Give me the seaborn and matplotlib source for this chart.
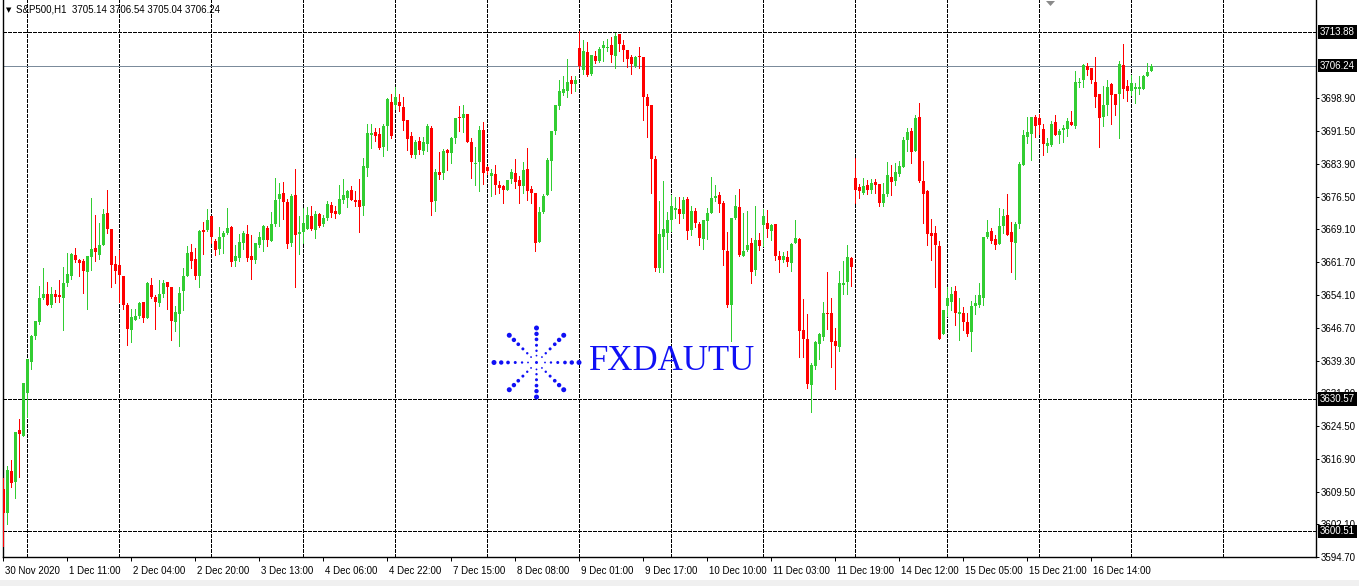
import numpy as np
import pandas as pd
import matplotlib
matplotlib.use("Agg")
import matplotlib.pyplot as plt
import matplotlib.transforms as mtransforms
from matplotlib.patches import Rectangle, Polygon
import seaborn as sns

# ---------------- data (S&P500, H1) ----------------
opens = [
    3610.2, 3604.6, 3614.3, 3611.8, 3623.6, 3622.2, 3631.9, 3638.9, 3644.8, 3648.0, 3653.6, 3654.5,
    3651.8, 3654.3, 3654.1, 3653.6, 3656.8, 3658.6, 3663.3, 3662.2, 3662.0, 3659.3, 3662.9, 3664.9,
    3663.3, 3665.6, 3672.8, 3669.2, 3661.3, 3661.1, 3658.4, 3652.0, 3646.2, 3648.6, 3649.5, 3652.5,
    3648.9, 3656.5, 3653.8, 3652.3, 3654.3, 3657.2, 3656.1, 3648.0, 3649.8, 3655.2, 3658.6, 3664.0,
    3662.4, 3658.6, 3669.0, 3669.0, 3672.1, 3666.5, 3664.7, 3667.4, 3668.3, 3669.6, 3662.0, 3662.6,
    3666.0, 3668.1, 3663.1, 3662.2, 3665.6, 3666.7, 3669.4, 3666.5, 3670.3, 3676.0, 3677.3, 3675.3,
    3666.0, 3676.9, 3668.1, 3668.5, 3669.2, 3672.1, 3669.0, 3672.6, 3670.3, 3671.7, 3674.6, 3673.3,
    3672.6, 3675.7, 3676.2, 3678.0, 3675.7, 3675.7, 3674.4, 3683.0, 3690.4, 3691.1, 3690.7, 3687.7,
    3692.5, 3697.9, 3697.4, 3698.1, 3696.8, 3693.8, 3690.2, 3685.9, 3689.1, 3686.8, 3688.4, 3692.2,
    3675.5, 3682.1, 3681.8, 3687.0, 3686.4, 3689.8, 3694.7, 3694.3, 3695.2, 3688.9, 3683.9, 3684.3,
    3691.6, 3683.2, 3681.2, 3681.6, 3679.1, 3678.9, 3678.0, 3680.5, 3681.8, 3680.3, 3678.9, 3682.8,
    3678.2, 3677.3, 3666.3, 3673.0, 3676.9, 3684.6, 3691.3, 3697.0, 3700.1, 3700.6, 3703.1, 3702.0,
    3710.3, 3705.3, 3709.4, 3704.4, 3708.5, 3707.4, 3710.3, 3710.3, 3711.0, 3708.5, 3713.5, 3711.0,
    3709.9, 3708.3, 3706.2, 3708.3, 3708.1, 3699.2, 3697.4, 3685.0, 3660.4, 3667.4, 3668.3, 3671.2,
    3673.5, 3673.7, 3672.6, 3676.0, 3669.0, 3673.3, 3670.3, 3666.9, 3671.0, 3672.8, 3676.2, 3676.9,
    3675.1, 3664.2, 3651.8, 3671.7, 3674.2, 3663.1, 3664.4, 3666.0, 3659.9, 3666.7, 3670.1, 3670.6,
    3668.7, 3670.3, 3663.1, 3662.2, 3662.9, 3661.5, 3666.0, 3666.9, 3646.2, 3644.3, 3633.7, 3638.0,
    3643.0, 3644.6, 3650.2, 3650.0, 3643.7, 3642.3, 3656.5, 3657.2, 3662.6, 3680.7, 3678.7, 3677.3,
    3679.1, 3678.0, 3679.8, 3679.4, 3675.1, 3677.1, 3680.9, 3680.0, 3681.6, 3683.2, 3689.3, 3691.3,
    3686.8, 3694.5, 3680.0, 3677.8, 3668.3, 3668.3, 3665.4, 3645.3, 3651.6, 3652.5, 3655.2, 3649.8,
    3650.0, 3648.0, 3645.7, 3651.6, 3651.8, 3653.6, 3667.4, 3668.7, 3666.9, 3665.8, 3669.9, 3672.4,
    3668.5, 3666.0, 3670.3, 3683.7, 3690.0, 3690.7, 3694.5, 3694.3, 3691.8, 3687.9, 3688.2, 3693.4,
    3690.4, 3691.6, 3691.8, 3693.4, 3692.5, 3702.2, 3702.9, 3706.2, 3705.6, 3702.6, 3699.7, 3694.5,
    3697.2, 3702.0, 3699.7, 3699.7, 3706.5, 3701.7, 3700.6, 3701.0, 3701.0, 3701.0, 3704.0, 3705.14,
]
highs = [
    3612.7, 3615.4, 3616.8, 3623.1, 3626.1, 3634.2, 3639.6, 3645.0, 3648.2, 3656.3, 3660.4, 3657.2,
    3656.1, 3655.4, 3657.5, 3660.6, 3663.8, 3663.8, 3664.9, 3662.4, 3662.4, 3663.1, 3676.2, 3672.4,
    3670.6, 3673.7, 3678.0, 3669.2, 3663.1, 3664.4, 3658.4, 3652.3, 3651.1, 3651.1, 3652.7, 3652.7,
    3657.2, 3658.1, 3654.1, 3657.5, 3657.5, 3657.2, 3656.1, 3651.6, 3655.9, 3660.4, 3665.4, 3665.8,
    3664.9, 3669.0, 3670.8, 3673.7, 3672.1, 3666.9, 3669.6, 3668.7, 3673.9, 3669.9, 3665.6, 3668.1,
    3668.7, 3670.1, 3667.8, 3666.0, 3668.5, 3670.1, 3669.9, 3673.0, 3680.7, 3679.6, 3679.8, 3676.0,
    3677.1, 3682.8, 3672.1, 3673.9, 3674.2, 3674.4, 3673.3, 3672.8, 3672.4, 3675.5, 3675.3, 3674.4,
    3679.1, 3680.5, 3678.0, 3678.9, 3677.8, 3680.5, 3685.2, 3693.1, 3692.9, 3692.2, 3692.2, 3692.9,
    3699.0, 3699.9, 3701.3, 3699.7, 3699.2, 3693.8, 3691.1, 3689.3, 3690.0, 3690.0, 3693.1, 3692.5,
    3682.8, 3686.6, 3687.3, 3687.3, 3690.0, 3694.3, 3697.0, 3697.2, 3695.2, 3689.8, 3687.7, 3692.5,
    3693.4, 3683.4, 3682.8, 3683.7, 3680.0, 3679.1, 3680.3, 3682.8, 3685.0, 3681.2, 3684.3, 3687.5,
    3678.9, 3677.3, 3674.2, 3677.1, 3685.2, 3691.3, 3697.4, 3702.9, 3704.0, 3707.8, 3704.0, 3704.0,
    3714.0, 3712.1, 3711.7, 3708.7, 3709.6, 3710.5, 3711.9, 3712.3, 3712.8, 3713.7, 3713.5, 3712.1,
    3709.9, 3708.7, 3708.5, 3710.5, 3708.3, 3699.9, 3697.4, 3685.7, 3675.5, 3680.0, 3673.0, 3676.9,
    3676.4, 3676.4, 3676.4, 3676.4, 3674.4, 3673.9, 3670.8, 3671.2, 3673.9, 3680.9, 3679.1, 3677.6,
    3675.5, 3668.5, 3671.7, 3676.9, 3678.2, 3672.8, 3673.3, 3667.2, 3674.4, 3668.3, 3673.7, 3673.5,
    3670.3, 3670.3, 3664.2, 3664.0, 3664.2, 3666.0, 3671.2, 3667.2, 3653.2, 3649.8, 3638.7, 3643.7,
    3645.5, 3652.5, 3659.3, 3653.6, 3646.8, 3659.7, 3662.0, 3665.6, 3662.9, 3685.2, 3679.4, 3680.7,
    3680.3, 3680.5, 3680.5, 3679.4, 3679.6, 3684.3, 3683.7, 3684.1, 3684.6, 3690.0, 3692.0, 3692.0,
    3695.0, 3697.7, 3684.6, 3678.0, 3671.5, 3669.9, 3666.5, 3650.7, 3655.9, 3655.9, 3656.3, 3653.4,
    3651.4, 3650.2, 3652.9, 3654.1, 3657.0, 3667.4, 3671.2, 3669.4, 3667.8, 3673.9, 3673.7, 3677.1,
    3670.8, 3670.8, 3684.3, 3691.6, 3694.5, 3694.7, 3695.0, 3695.2, 3692.9, 3689.8, 3693.6, 3695.0,
    3691.8, 3692.7, 3694.3, 3695.9, 3705.1, 3703.5, 3706.7, 3706.9, 3705.6, 3708.1, 3699.9, 3701.7,
    3703.1, 3702.2, 3699.9, 3707.4, 3711.2, 3703.1, 3704.2, 3702.2, 3704.0, 3704.2, 3706.9, 3706.54,
]
lows = [
    3597.3, 3602.1, 3610.7, 3608.0, 3612.9, 3622.2, 3626.5, 3637.3, 3644.1, 3647.5, 3653.2, 3651.8,
    3651.4, 3652.7, 3652.5, 3646.2, 3656.3, 3657.7, 3661.7, 3658.6, 3654.7, 3650.9, 3659.9, 3662.0,
    3662.4, 3665.6, 3668.3, 3655.9, 3657.0, 3652.5, 3651.1, 3642.8, 3643.4, 3648.4, 3648.9, 3648.0,
    3648.9, 3653.4, 3646.4, 3651.6, 3653.8, 3650.9, 3643.9, 3645.9, 3642.5, 3650.7, 3658.6, 3660.4,
    3657.7, 3656.1, 3663.6, 3668.7, 3666.0, 3663.3, 3663.6, 3663.8, 3668.1, 3660.8, 3660.8, 3662.0,
    3664.7, 3662.0, 3657.7, 3661.5, 3665.1, 3664.2, 3665.4, 3666.5, 3669.9, 3669.9, 3671.5, 3664.9,
    3665.4, 3656.1, 3663.6, 3666.0, 3669.2, 3669.0, 3667.2, 3669.6, 3669.9, 3671.2, 3671.9, 3671.7,
    3672.6, 3675.1, 3674.2, 3675.7, 3674.4, 3668.5, 3672.4, 3681.2, 3687.5, 3689.1, 3687.3, 3685.7,
    3687.0, 3689.8, 3696.3, 3695.9, 3691.6, 3687.0, 3685.5, 3685.2, 3686.1, 3686.1, 3686.8, 3672.4,
    3673.3, 3680.5, 3680.5, 3682.5, 3684.1, 3688.6, 3691.3, 3691.1, 3688.9, 3680.7, 3679.1, 3677.8,
    3679.4, 3681.6, 3676.7, 3677.1, 3677.3, 3675.1, 3678.0, 3679.6, 3678.5, 3675.1, 3677.3, 3675.7,
    3675.1, 3664.2, 3666.3, 3672.8, 3676.9, 3678.0, 3690.7, 3696.5, 3699.5, 3699.2, 3700.1, 3700.6,
    3705.6, 3704.4, 3703.8, 3704.2, 3706.9, 3707.1, 3707.4, 3709.6, 3707.1, 3705.8, 3709.6, 3707.4,
    3706.0, 3704.4, 3706.0, 3705.6, 3694.0, 3690.0, 3677.3, 3659.7, 3659.5, 3659.5, 3664.7, 3668.7,
    3671.7, 3670.6, 3671.7, 3666.9, 3667.8, 3669.6, 3665.6, 3664.7, 3666.9, 3672.8, 3675.5, 3673.0,
    3661.1, 3651.4, 3643.7, 3671.5, 3663.1, 3663.1, 3664.2, 3656.8, 3658.8, 3664.4, 3665.4, 3667.4,
    3666.7, 3662.2, 3659.5, 3661.7, 3660.8, 3659.7, 3666.0, 3640.1, 3640.1, 3633.0, 3627.6, 3637.3,
    3639.6, 3643.9, 3646.4, 3637.8, 3632.8, 3641.4, 3654.3, 3654.3, 3656.3, 3675.1, 3676.2, 3677.1,
    3677.1, 3677.3, 3677.3, 3674.4, 3674.4, 3676.7, 3676.9, 3679.1, 3681.2, 3683.2, 3686.8, 3684.1,
    3686.8, 3679.8, 3670.6, 3665.6, 3662.2, 3655.9, 3644.1, 3645.3, 3649.3, 3650.7, 3647.3, 3643.9,
    3646.2, 3644.8, 3641.4, 3649.8, 3651.4, 3651.8, 3667.2, 3666.0, 3664.7, 3665.8, 3668.3, 3667.8,
    3659.5, 3657.9, 3669.4, 3683.7, 3688.6, 3684.8, 3690.0, 3690.7, 3685.9, 3686.6, 3687.9, 3690.4,
    3688.6, 3688.9, 3690.2, 3692.7, 3692.2, 3701.5, 3701.5, 3704.2, 3702.4, 3696.8, 3687.7, 3692.5,
    3695.0, 3693.1, 3695.0, 3689.8, 3699.0, 3698.3, 3699.5, 3697.7, 3699.9, 3701.0, 3703.8, 3705.04,
]
closes = [
    3604.8, 3614.5, 3611.6, 3623.1, 3622.7, 3634.2, 3639.6, 3644.8, 3648.2, 3653.6, 3654.3, 3652.0,
    3654.5, 3653.8, 3653.8, 3657.0, 3659.0, 3663.6, 3662.2, 3661.5, 3659.7, 3663.1, 3664.7, 3664.0,
    3665.6, 3672.6, 3669.2, 3661.1, 3659.7, 3658.8, 3652.0, 3646.4, 3649.1, 3649.5, 3652.3, 3648.9,
    3656.8, 3653.8, 3652.5, 3654.3, 3657.0, 3655.9, 3648.2, 3650.4, 3654.7, 3658.4, 3663.8, 3662.0,
    3658.4, 3668.7, 3668.5, 3671.2, 3667.4, 3664.4, 3667.4, 3668.3, 3669.4, 3661.7, 3663.1, 3666.3,
    3668.3, 3662.6, 3662.2, 3666.0, 3667.4, 3669.9, 3666.7, 3670.3, 3675.7, 3677.1, 3675.3, 3665.8,
    3676.7, 3667.8, 3668.5, 3670.6, 3672.4, 3669.2, 3672.6, 3669.9, 3671.7, 3674.8, 3672.8, 3672.6,
    3676.0, 3676.9, 3677.8, 3675.7, 3675.3, 3674.2, 3683.4, 3690.9, 3690.9, 3690.2, 3687.5, 3692.5,
    3698.6, 3690.2, 3699.2, 3697.0, 3693.6, 3689.5, 3685.9, 3688.9, 3687.0, 3688.9, 3692.5, 3675.3,
    3682.1, 3681.4, 3686.8, 3686.4, 3689.8, 3694.3, 3694.3, 3695.2, 3688.9, 3684.3, 3684.1, 3691.6,
    3681.8, 3682.3, 3681.8, 3679.1, 3678.5, 3678.0, 3680.3, 3682.1, 3679.8, 3678.9, 3682.5, 3677.8,
    3677.3, 3666.0, 3673.0, 3676.7, 3684.8, 3691.3, 3697.4, 3700.6, 3701.0, 3702.6, 3702.0, 3703.1,
    3706.2, 3709.6, 3704.2, 3708.7, 3707.4, 3710.1, 3711.0, 3710.5, 3708.7, 3713.0, 3711.2, 3709.9,
    3707.8, 3706.7, 3708.1, 3708.1, 3699.2, 3697.0, 3685.0, 3660.2, 3668.1, 3669.2, 3671.2, 3674.4,
    3673.9, 3672.6, 3675.7, 3668.7, 3673.3, 3670.6, 3667.2, 3671.2, 3672.8, 3676.2, 3676.7, 3674.8,
    3664.4, 3652.0, 3671.7, 3674.4, 3663.3, 3664.2, 3665.6, 3659.5, 3666.7, 3665.4, 3672.1, 3669.2,
    3670.1, 3663.1, 3662.2, 3663.1, 3661.7, 3665.8, 3667.2, 3645.9, 3644.3, 3634.0, 3638.2, 3643.4,
    3645.3, 3650.2, 3649.8, 3643.4, 3642.5, 3656.8, 3656.8, 3662.9, 3660.6, 3678.0, 3677.8, 3678.9,
    3678.0, 3679.6, 3679.1, 3675.1, 3677.1, 3681.4, 3679.8, 3682.1, 3683.4, 3689.3, 3691.1, 3686.6,
    3694.3, 3680.0, 3677.1, 3668.1, 3667.6, 3665.6, 3644.1, 3650.7, 3653.4, 3654.5, 3650.0, 3650.4,
    3648.0, 3645.3, 3651.6, 3652.3, 3654.1, 3667.4, 3668.5, 3666.5, 3665.6, 3669.9, 3672.1, 3667.8,
    3666.3, 3670.3, 3683.9, 3690.4, 3691.1, 3694.5, 3692.5, 3692.7, 3688.4, 3688.6, 3693.1, 3690.4,
    3691.3, 3692.2, 3693.6, 3692.7, 3702.6, 3702.6, 3706.5, 3705.3, 3702.9, 3699.2, 3694.3, 3697.2,
    3701.5, 3699.5, 3697.4, 3706.7, 3701.0, 3700.6, 3702.4, 3701.5, 3701.5, 3704.0, 3704.9, 3706.24,
]

x_tick_labels = ["30 Nov 2020", "1 Dec 11:00", "2 Dec 04:00", "2 Dec 20:00", "3 Dec 13:00",
                 "4 Dec 06:00", "4 Dec 22:00", "7 Dec 15:00", "8 Dec 08:00", "9 Dec 01:00",
                 "9 Dec 17:00", "10 Dec 10:00", "11 Dec 03:00", "11 Dec 19:00", "14 Dec 12:00",
                 "15 Dec 05:00", "15 Dec 21:00", "16 Dec 14:00"]
x_tick_bars = [0, 16, 32, 48, 64, 80, 96, 112, 128, 144, 160, 176, 192, 208, 224, 240, 256, 272]
grid_bars = [6, 29, 52, 75, 98, 121, 144, 167, 190, 213, 236, 259, 282, 305]
y_tick_values = [3698.90, 3691.50, 3683.90, 3676.50, 3669.10, 3661.70, 3654.10, 3646.70,
                 3639.30, 3631.90, 3624.50, 3616.90, 3609.50, 3602.10, 3594.70]
level_lines = [3713.88, 3630.57, 3600.51]
bid_price = 3706.24
header_text = "S&P500,H1  3705.14 3706.54 3705.04 3706.24"
watermark = "FXDAUTU"

# ---------------- style ----------------
sns.set_theme(style="white")
plt.rcParams['font.family'] = ['Liberation Sans', 'DejaVu Sans']

W, H = 1359, 586
fig = plt.figure(figsize=(W / 100, H / 100), dpi=100, facecolor="white")
ax = fig.add_axes([2.5 / W, (H - 557) / H, 1313.5 / W, 557 / H])
ax.set_facecolor("white")
ax.set_xlim(-0.125, 328.25)
ax.set_ylim(3595.32, 3721.15)

df = pd.DataFrame({"open": opens, "high": highs, "low": lows, "close": closes})
df["bar"] = np.arange(len(df))
up = df["close"] >= df["open"]
colors = np.where(up, "#32CD32", "#FF0000")

dash = (0, (4, 2))
for gb in grid_bars:
    ax.axvline(gb, color="black", lw=0.72, ls=dash, zorder=1, antialiased=False)
for lv in level_lines:
    ax.axhline(lv, color="black", lw=0.72, ls=dash, zorder=1, antialiased=False)
ax.axhline(bid_price, color="#7b8b9b", lw=0.72, zorder=1.5, antialiased=False)

# candles
ax.vlines(df["bar"], df["low"], df["high"], colors=colors, linewidth=0.72,
          antialiased=False, zorder=3)
body_bottom = np.minimum(df["open"], df["close"])
body_h = np.maximum((df["close"] - df["open"]).abs(), 0.23)
ax.bar(df["bar"], body_h, bottom=body_bottom, width=0.75, color=colors,
       linewidth=0, antialiased=False, zorder=4)

for side in ["left", "bottom", "right"]:
    ax.spines[side].set_visible(True)
    ax.spines[side].set_color("black")
    ax.spines[side].set_linewidth(1.0)
ax.spines["top"].set_visible(False)

ax.set_xticks(x_tick_bars)
ax.set_xticklabels([""] * len(x_tick_bars))
ax.tick_params(axis="x", direction="out", length=3, width=0.72, color="black", bottom=True)
trans_x = mtransforms.blended_transform_factory(ax.transData, ax.transAxes)
for b, lab in zip(x_tick_bars, x_tick_labels):
    ax.text(b + 0.45, -14 / 557, lab, transform=trans_x, ha="left", va="center",
            fontsize=7, color="black")

ax.yaxis.tick_right()
ax.set_yticks(y_tick_values)
ax.set_yticklabels([f"{v:.2f}" for v in y_tick_values])
ax.tick_params(axis="y", direction="out", length=2.2, width=0.72, color="black",
               pad=1.5, labelsize=7, right=True, left=False, labelcolor="black")

trans_y = mtransforms.blended_transform_factory(ax.transAxes, ax.transData)
for lv in [3713.88, bid_price, 3630.57, 3600.51]:
    ax.text(1 + 4 / 1313.5, lv, f"{lv:.2f}", transform=trans_y, ha="left", va="center",
            fontsize=7, color="white", zorder=10, clip_on=False,
            bbox=dict(boxstyle="square,pad=0.18", fc="black", ec="none"))

fig.text(6 / W, 1 - 10 / H, "\u25BC", fontsize=5, va="center", ha="left", color="black",
         family=["DejaVu Sans"])
fig.text(16 / W, 1 - 10 / H, header_text, fontsize=7, va="center", ha="left", color="black")

fig.patches.append(Polygon([[1046 / W, 1 - 1 / H], [1055 / W, 1 - 1 / H], [1050.5 / W, 1 - 6 / H]],
                           closed=True, transform=fig.transFigure, fc="#8a8a8a", ec="none"))
fig.patches.append(Rectangle((0, 0), 1, 6 / H, transform=fig.transFigure,
                             fc="#f0f0f0", ec="none", zorder=0))

# watermark logo (dotted star) + text
cx, cy = 536.5, 362.5
blue = "#1010f5"
ray_specs = [(0, 42.5), (45, 38.5), (90, 34.5), (135, 38.5), (180, 42.5), (225, 38.5),
             (270, 34.5), (315, 38.5)]
fracs = [1.0, 0.83, 0.67, 0.5, 0.34, 0.2]
diams = [5.0, 4.4, 3.7, 3.0, 2.4, 1.8]
px, py, ps = [cx], [cy], [3.0]
for ang, R in ray_specs:
    a = np.deg2rad(ang)
    for f, d in zip(fracs, diams):
        px.append(cx + R * f * np.cos(a))
        py.append(cy - R * f * np.sin(a))
        ps.append(d)
px = np.array(px) / W
py = 1 - np.array(py) / H
sizes = (np.array(ps) * 0.72) ** 2
ax.scatter(px, py, s=sizes, c=blue, linewidths=0, transform=fig.transFigure,
           zorder=6, clip_on=False)
fig.text(589 / W, 1 - 362 / H, watermark, fontsize=25, color=blue, va="center", ha="left",
         family=["Liberation Serif"])

fig.savefig("out.png", dpi=100, facecolor="white")
